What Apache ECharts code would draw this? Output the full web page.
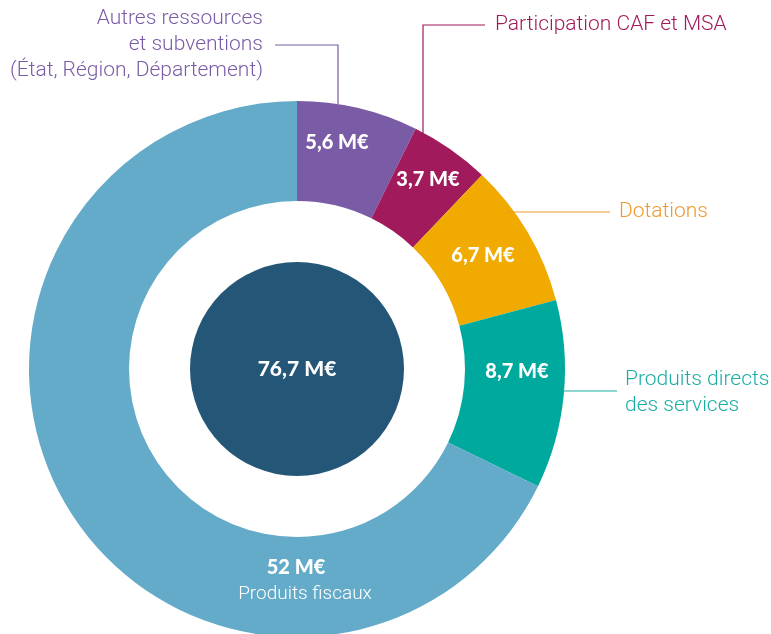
<!DOCTYPE html>
<html>
<head>
<meta charset="utf-8">
<script src="https://cdn.jsdelivr.net/npm/echarts@6/dist/echarts.min.js"></script>
<style>
  html, body { margin: 0; padding: 0; background: #fff; }
  #chart { width: 771px; height: 634px; }
</style>
</head>
<body>
<div id="chart"></div>
<script>
// Recettes (M€), clockwise from 12 o'clock
const categories = [
    'Autres ressources\net subventions\n(État, Région, Département)',
    'Participation CAF et MSA',
    'Dotations',
    'Produits directs\ndes services',
    'Produits fiscaux'
];
const values = [5.6, 3.7, 6.7, 8.7, 52];
const valueLabels = ['5,6 M€', '3,7 M€', '6,7 M€', '8,7 M€', '52 M€'];
const totalLabel = '76,7 M€';
const total = 76.7;

const colors = ['#7a5ca6', '#a11a5b', '#f0aa00', '#00a99d', '#64abc9'];
const textColors = ['#7a5ca6', '#a11a5b', '#ee9a2e', '#1aaea3', '#ffffff'];

const CENTER = [297, 369];
const RING = [168, 268];

// label placement (value labels inside ring)
const insidePos = [
    [337, 143], [428, 180], [483, 256], [517, 372], [305, 580]
];
// outer labels + leader lines
const outerLabels = [
    { x: 263, y: 45, align: 'right', pts: [[338, 104], [338, 45], [275, 45]] },
    { x: 495, y: 25, align: 'left', pts: [[423, 134], [423, 25], [485, 25]] },
    { x: 619, y: 212, align: 'left', pts: [[507, 212], [560, 212], [610, 212]] },
    { x: 625, y: 393, align: 'left', pts: [[563, 391], [590, 391], [617, 391]] },
    null
];

const chart = echarts.init(document.getElementById('chart'));

chart.setOption({
    backgroundColor: '#fff',
    animation: false,
    series: [
        // ring with values
        {
            type: 'pie',
            center: CENTER,
            radius: RING,
            startAngle: 90,
            clockwise: true,
            silent: true,
            data: values.map((v, i) => ({
                value: v,
                name: categories[i],
                itemStyle: { color: colors[i] },
                label: i === 4 ? {
                    formatter: '{v|' + valueLabels[i] + '}\n{n|Produits fiscaux}',
                    rich: {
                        v: { fontFamily: 'Lato', fontWeight: 900, fontSize: 20, color: '#fff', lineHeight: 28, padding: [0, 18, 0, 0] },
                        n: { fontFamily: 'Roboto', fontWeight: 300, fontSize: 19, color: '#fff', lineHeight: 25 }
                    }
                } : {}
            })),
            label: {
                show: true,
                position: 'inside',
                formatter: (p) => valueLabels[p.dataIndex],
                color: '#fff',
                fontFamily: 'Lato',
                fontWeight: 900,
                fontSize: 20
            },
            labelLine: { show: false },
            labelLayout: (p) => ({
                x: insidePos[p.dataIndex][0],
                y: insidePos[p.dataIndex][1],
                align: 'center',
                verticalAlign: 'middle'
            })
        },
        // transparent copy for outer category labels
        {
            type: 'pie',
            center: CENTER,
            radius: RING,
            startAngle: 90,
            clockwise: true,
            silent: true,
            z: 5,
            data: values.map((v, i) => ({
                value: v,
                name: categories[i],
                itemStyle: { color: 'rgba(0,0,0,0)' },
                label: { show: i !== 4, color: textColors[i] },
                labelLine: { show: i !== 4, lineStyle: { color: textColors[i], width: 1.2 } }
            })),
            label: {
                position: 'outside',
                formatter: '{b}',
                fontFamily: 'Roboto',
                fontWeight: 300,
                fontSize: 21,
                lineHeight: 26
            },
            labelLine: { show: true, length: 10, length2: 10, smooth: false },
            labelLayout: (p) => {
                const o = outerLabels[p.dataIndex];
                if (!o) return {};
                return {
                    x: o.x,
                    y: o.y,
                    align: o.align,
                    verticalAlign: 'middle',
                    labelLinePoints: o.pts
                };
            }
        },
        // centre disc with the total
        {
            type: 'pie',
            center: CENTER,
            radius: [0, 107],
            silent: true,
            data: [{ value: total, name: 'Total', itemStyle: { color: '#245677' } }],
            label: {
                show: true,
                position: 'center',
                formatter: totalLabel,
                color: '#fff',
                fontFamily: 'Lato',
                fontWeight: 900,
                fontSize: 21
            },
            labelLine: { show: false }
        }
    ]
});
</script>
</body>
</html>
